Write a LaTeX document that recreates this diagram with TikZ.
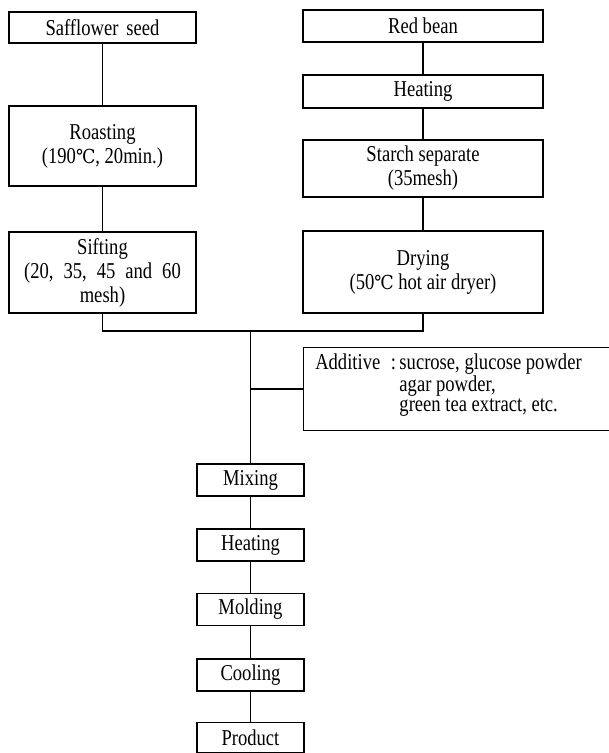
\documentclass[tikz,border=0pt]{standalone}
\usepackage{fontspec}
\setmainfont[FakeStretch=0.82]{Liberation Serif}
\newfontfamily\degfont[Scale=0.85,FakeStretch=0.9]{DejaVu Serif}
\newcommand\dC{{\degfont ℃}}
\newcommand\addpre{Additive\hspace{8pt}:\hspace{2.5pt}}
\newcommand\wsp{\hspace{7.5pt}}
\begin{document}
\begin{tikzpicture}[x=0.75pt,y=-0.75pt,
  every node/.style={font=\fontsize{17}{18}\selectfont},
  box/.style={draw, line width=0.8pt, align=center, inner sep=0pt},
  lcol/.style={box, minimum width=140.25pt},
  rcol/.style={box, minimum width=180pt},
  ccol/.style={box, minimum width=80.25pt, minimum height=24pt},
  conn/.style={line width=0.8pt}]
\useasboundingbox (0,0) rectangle (609,753);
% left column
\node[lcol, minimum height=23.25pt] (saf) at (102.5,27.5) {Safflower\hspace{6pt}seed};
\node[lcol, minimum height=60pt] (roast) at (102.5,146) {Roasting\\(190\dC, 20min.)};
\node[lcol, minimum height=60.75pt] (sift) at (102.5,272.5) {Sifting\\(20,\wsp35,\wsp45\wsp and\wsp60\\mesh)};
% right column
\node[rcol, minimum height=24pt] (red) at (423,26) {Red bean};
\node[rcol, minimum height=24.75pt] (heat1) at (423,91.5) {Heating};
\node[rcol, minimum height=42.75pt] (starch) at (423,168.5) {Starch separate\\(35mesh)};
\node[rcol, minimum height=61.5pt] (dry) at (423,272) {Drying\\(50\dC\ hot air dryer)};
% additive
\node[inner sep=0pt, minimum width=228.75pt, minimum height=61.5pt] (add) at (456.5,389) {};
\node[anchor=west, align=left, inner sep=0pt, font=\fontsize{17}{15}\selectfont] (addtxt) at (315,385)
  {\addpre sucrose, glucose powder\\\hphantom{\addpre}agar powder,\\\hphantom{\addpre}green tea extract, etc.};
\draw[conn] (add.north east) -- (add.north west) -- (add.south west) -- (add.south east);
% centre column
\node[ccol] (mix) at (250.5,480) {Mixing};
\node[ccol] (heat2) at (250.5,545) {Heating};
\node[ccol] (mold) at (250.5,609.5) {Molding};
\node[ccol] (cool) at (250.5,675) {Cooling};
\node[ccol, minimum height=22pt] (prod) at (250.5,737.5) {Product};
\coordinate (j) at (250.5,331);
% connectors
\draw[conn] (saf) -- (roast);
\draw[conn] (roast) -- (sift);
\draw[conn] (red) -- (heat1);
\draw[conn] (heat1) -- (starch);
\draw[conn] (starch) -- (dry);
\draw[conn] (sift.south) |- (j) -| (dry.south);
\draw[conn] (j) -- (mix.north);
\draw[conn] (j |- add.west) -- (add.west);
\draw[conn] (mix) -- (heat2);
\draw[conn] (heat2) -- (mold);
\draw[conn] (mold) -- (cool);
\draw[conn] (cool) -- (prod);
\end{tikzpicture}
\end{document}
